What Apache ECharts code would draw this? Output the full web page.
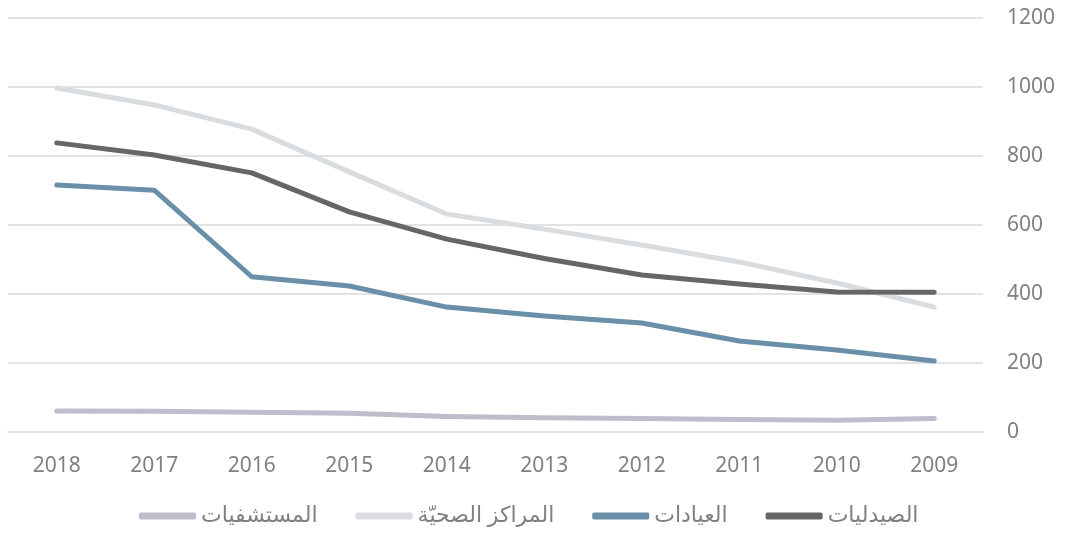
<!DOCTYPE html>
<html>
<head>
<meta charset="utf-8">
<script src="https://cdn.jsdelivr.net/npm/echarts@6/dist/echarts.min.js"></script>
<style>
  html, body { margin: 0; padding: 0; background: #fff; }
  #chart { width: 1066px; height: 533px; }
</style>
</head>
<body>
<div id="chart"></div>
<script>
// السنوات
const years = ['2018', '2017', '2016', '2015', '2014', '2013', '2012', '2011', '2010', '2009']

// القيم
const hospitals = [61, 60, 57, 54, 45, 41, 39, 36, 34, 39]
const healthCenters = [997, 948, 878, 754, 632, 588, 542, 493, 432, 362]
const clinics = [716, 701, 450, 423, 362, 336, 316, 264, 238, 206]
const pharmacies = [838, 803, 751, 638, 559, 503, 455, 429, 406, 405]

const seriesNames = ['المستشفيات', 'المراكز الصحيّة', 'العيادات', 'الصيدليات']
const seriesColors = ['#bfbccb', '#d9dde0', '#6a8fa8', '#666666']
const seriesData = [hospitals, healthCenters, clinics, pharmacies]

const chart = echarts.init(document.getElementById('chart'))

const option = {
  animation: false,
  textStyle: { fontFamily: 'Noto Sans, DejaVu Sans, sans-serif' },
  grid: { left: 8, right: 83, top: 18, bottom: 101 },
  legend: {
    left: 134,
    bottom: 1,
    icon: 'roundRect',
    itemWidth: 57,
    itemHeight: 7,
    itemGap: 38,
    textStyle: { color: '#808080', fontSize: 22 },
    data: seriesNames
  },
  xAxis: {
    type: 'category',
    data: years,
    boundaryGap: true,
    axisLine: { show: true, lineStyle: { color: '#e3e3e3', width: 2 } },
    axisTick: { show: false },
    axisLabel: { color: '#808080', fontSize: 21, margin: 24 }
  },
  yAxis: {
    type: 'value',
    position: 'right',
    min: 0,
    max: 1200,
    interval: 200,
    axisLine: { show: false },
    axisTick: { show: false },
    axisLabel: { color: '#808080', fontSize: 21, margin: 24, formatter: v => String(v) },
    splitLine: { lineStyle: { color: '#e3e3e3', width: 2 } }
  },
  series: seriesNames.map((name, i) => ({
    name,
    type: 'line',
    data: seriesData[i],
    symbol: 'none',
    color: seriesColors[i],
    lineStyle: { width: 5, color: seriesColors[i], cap: 'round', join: 'round' }
  }))
}

chart.setOption(option)
</script>
</body>
</html>
